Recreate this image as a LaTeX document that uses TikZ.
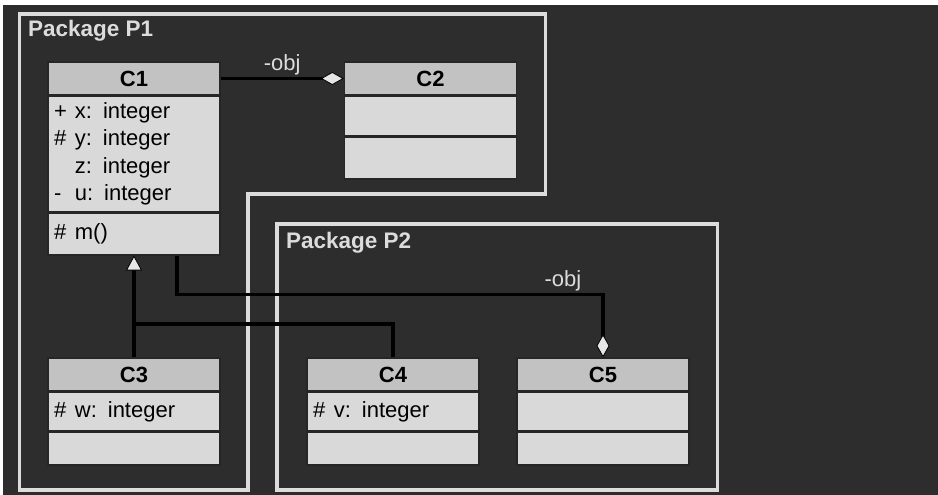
\documentclass[tikz,border=0pt]{standalone}
\usepackage{fontspec}
\setmainfont{Liberation Sans}
\usetikzlibrary{positioning,arrows.meta}
\definecolor{canvas}{HTML}{2D2D2D}
\definecolor{frameline}{HTML}{DCDCDC}
\definecolor{headfill}{HTML}{C2C2C2}
\definecolor{bodyfill}{HTML}{D9D9D9}
\definecolor{tipfill}{HTML}{E6E6E6}
\newcommand{\vis}[1]{\makebox[0.95em][l]{#1}}

\begin{document}
\begin{tikzpicture}[x=1pt, y=-1pt, every node/.style={font=\fontsize{22}{27.5}\selectfont},
  hd/.style={draw=black!85, line width=1.4pt, fill=headfill, minimum width=172pt, minimum height=33pt, inner sep=0pt, font=\fontsize{22}{27.5}\selectfont\bfseries},
  sect/.style={draw=black!85, line width=1.4pt, fill=bodyfill, text width=160pt, inner xsep=6pt, inner ysep=0pt, align=left, minimum height=#1},
  pkg/.style={draw=frameline, line width=3.5pt},
  pkgname/.style={text=frameline, font=\fontsize{22.5}{27.5}\selectfont\bfseries, anchor=base west, inner sep=0pt},
  role/.style={text=frameline, inner sep=2pt},
  link/.style={draw=black, line width=3.5pt},
  agg/.style={link, -{Diamond[length=23pt,width=13pt,line width=0.8pt,fill=tipfill]}},
  gen/.style={link, -{Triangle[length=15pt,width=16pt,line width=0.8pt,fill=tipfill]}}]
\useasboundingbox (0,0) rectangle (938,495);
\fill[white] (0,0) rectangle (938,495);
\fill[canvas] (3,5) rectangle (938,495);
\draw[pkg] (19.5,14) -- (545.5,14) -- (545.5,194) -- (248,194) -- (248,490) -- (19.5,490) -- cycle;
\node[pkgname] (p1) at (28,36.5) {Package P1};
\draw[pkg] (277,224) rectangle (717.5,490);
\node[pkgname] (p2) at (286,248) {Package P2};
\node[hd] (c1) at (134,78.5) {C1};
\node[sect=115pt, below=0pt of c1] (c1a) {\vis{+}x: integer\\\vis{\#}y: integer\\\vis{}z: integer\\\vis{-}u: integer};
\node[sect=42pt, below=0pt of c1a] (c1m) {\vis{\#}m()};
\node[hd] (c2) at (430.5,78.5) {C2};
\node[sect=39pt, below=0pt of c2] (c2a) {};
\node[sect=42pt, below=0pt of c2a] (c2m) {};
\node[hd] (c3) at (134,374.5) {C3};
\node[sect=38pt, below=0pt of c3] (c3a) {\vis{\#}w: integer};
\node[sect=33pt, below=0pt of c3a] (c3m) {};
\node[hd] (c4) at (393,374.5) {C4};
\node[sect=38pt, below=0pt of c4] (c4a) {\vis{\#}v: integer};
\node[sect=33pt, below=0pt of c4a] (c4m) {};
\node[hd] (c5) at (603,374.5) {C5};
\node[sect=38pt, below=0pt of c5] (c5a) {};
\node[sect=33pt, below=0pt of c5a] (c5m) {};
\coordinate (jn) at (134,324);
\draw[agg] (c1.east) -- node[role, above] (r12) {-obj} (c2.west);
\draw[gen] (c3.north) -- (c1m.south);
\draw[link] (c4.north) |- (jn);
\draw[agg] ([xshift=43pt]c1m.south) -- ++(0,39) -| node[pos=0.5, role, anchor=south east, xshift=-18pt] (r15) {-obj} (c5.north);
\end{tikzpicture}
\end{document}
